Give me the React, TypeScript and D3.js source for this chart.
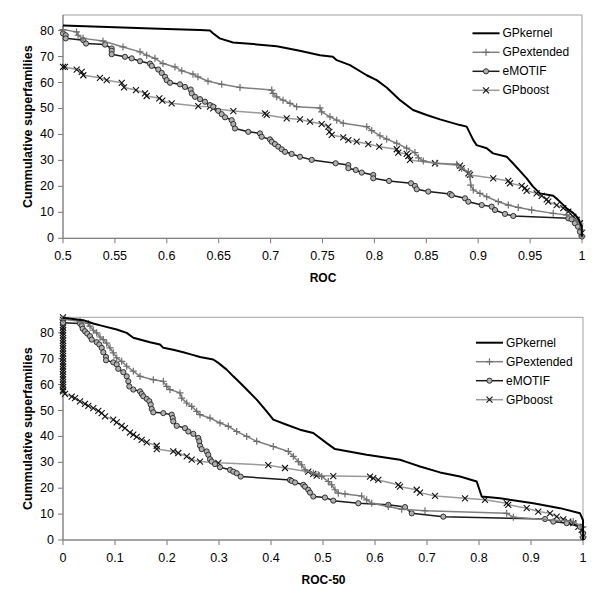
import React from 'react';
import * as d3 from 'd3';

type Pt = [number, number];

const seriesNames = ['GPkernel', 'GPextended', 'eMOTIF', 'GPboost'];
const yTicks = [0, 10, 20, 30, 40, 50, 60, 70, 80];
const rocTicks = [0.5, 0.55, 0.6, 0.65, 0.7, 0.75, 0.8, 0.85, 0.9, 0.95, 1];
const roc50Ticks = [0, 0.1, 0.2, 0.3, 0.4, 0.5, 0.6, 0.7, 0.8, 0.9, 1];
const yLabel = 'Cummulative superfamilies';

const rocGPkernel: Pt[] = [[0.5,82],[0.55,81.3],[0.6,80.6],[0.632,80.2],[0.6416,80],[0.6445,79],[0.651,77],[0.6638,75.4],[0.683,74.8],[0.706,74],[0.728,72.2],[0.7476,70.5],[0.76,69.9],[0.7637,68.6],[0.7765,66.7],[0.7926,62.8],[0.8022,60.9],[0.8118,58.1],[0.8247,53.2],[0.8372,49.4],[0.8504,47.5],[0.8632,45.8],[0.8825,43.6],[0.8889,43],[0.8953,37.8],[0.8985,35.9],[0.9082,34.7],[0.9143,32.7],[0.9275,31.4],[0.9335,28.9],[0.9467,23.1],[0.9528,19.9],[0.9595,17.3],[0.9723,16.4],[0.9769,14.8],[0.9852,11.6],[0.9916,9.7],[0.9964,7.7],[0.9997,4.5],[1,0.7]];
const rocGPextended: Pt[] = [[0.5,80.4],[0.513,79.5],[0.5145,78.2],[0.5193,77],[0.5385,76],[0.5578,73.7],[0.5742,71.8],[0.5806,70.5],[0.5886,69.3],[0.5963,67.3],[0.6079,66],[0.6144,64.5],[0.6252,63.2],[0.63,62.2],[0.6397,60.5],[0.6529,59.3],[0.6705,58.1],[0.7011,57.1],[0.7023,55.8],[0.7059,54.5],[0.712,53.2],[0.7187,52],[0.7251,50.7],[0.7476,50.2],[0.7492,48.7],[0.7572,46.8],[0.7637,45.5],[0.77,44.3],[0.7926,43],[0.7974,41.5],[0.8054,39.5],[0.8118,38.2],[0.8215,36.6],[0.8311,34.7],[0.8391,33],[0.8425,31],[0.8471,29.8],[0.86,28.9],[0.8793,28.5],[0.8841,27],[0.8905,25.7],[0.8921,23.7],[0.8928,20.5],[0.8953,18.6],[0.9017,17.3],[0.9082,16],[0.9194,14.1],[0.929,12.8],[0.9386,11.9],[0.9515,10.9],[0.9723,9.6],[0.9852,9],[0.9949,7.1],[0.998,5.5],[1,3.2],[1,0.8]];
const rocEMOTIF: Pt[] = [[0.5,78.9],[0.5026,78.2],[0.5026,77],[0.5196,76.3],[0.5222,75],[0.5405,74.6],[0.5469,73.1],[0.5469,72.2],[0.5469,70.9],[0.5597,69.9],[0.5662,69.3],[0.5742,68.2],[0.5838,67.3],[0.5855,66.4],[0.5918,65],[0.5951,63.7],[0.5983,62.2],[0.5999,60.9],[0.6031,59.9],[0.6127,59.3],[0.6175,58.3],[0.623,57.3],[0.624,55.8],[0.6272,54.5],[0.632,53.6],[0.6368,52.6],[0.6416,51.3],[0.6448,50.7],[0.6496,49.1],[0.6529,47.8],[0.6561,46.6],[0.6625,45.5],[0.6641,44],[0.6657,42.3],[0.6785,41],[0.6898,40.4],[0.6914,39.1],[0.6994,38.1],[0.7011,37.2],[0.7042,36.3],[0.7074,35.3],[0.7107,34.3],[0.7139,33.3],[0.7203,32.5],[0.7283,31.4],[0.7396,30.2],[0.7627,28.9],[0.7749,28.2],[0.7749,27],[0.782,26.3],[0.7878,25.3],[0.7989,24.4],[0.7989,23.1],[0.8141,22.1],[0.8353,21.2],[0.8391,20.2],[0.8408,18.9],[0.8519,18],[0.8728,17.1],[0.8745,16.6],[0.8873,15.4],[0.8905,14.1],[0.9034,12.8],[0.913,12.2],[0.9162,10.9],[0.9258,9.4],[0.9338,8.6],[0.9868,7.7],[0.99,7.3],[0.9932,5.8],[0.9961,4.5],[0.998,2.5],[1,0.7]];
const rocGPboost: Pt[] = [[0.5,66],[0.5019,66],[0.5132,65],[0.518,64.1],[0.5196,62.8],[0.5356,61.8],[0.5421,60.9],[0.5566,59.9],[0.5588,58.1],[0.5703,57.1],[0.579,55.8],[0.5806,54.8],[0.5928,53.9],[0.5957,53],[0.6047,52],[0.6303,50.9],[0.6416,50.7],[0.6448,50],[0.6641,49],[0.6946,48.1],[0.6962,47.5],[0.7155,46.2],[0.7283,45.8],[0.738,44.9],[0.7492,44],[0.7556,43],[0.7566,41],[0.7589,39.8],[0.77,38.9],[0.7749,37.8],[0.7829,37.2],[0.7941,36.3],[0.8047,35.3],[0.8215,34.3],[0.823,33],[0.8311,32.5],[0.8327,31.7],[0.8343,30.2],[0.8584,28.9],[0.8825,28],[0.8841,27],[0.8905,25],[0.8921,24.4],[0.9145,23.1],[0.929,22.1],[0.9306,21.2],[0.9419,20.2],[0.9451,19.3],[0.9467,18.3],[0.9563,17.3],[0.9612,16.3],[0.966,15],[0.9675,14.1],[0.9756,12.8],[0.982,11.6],[0.9868,10.3],[0.9916,8.3],[0.9949,7.1],[0.998,5.8],[0.9997,2]];

const roc50GPkernel: Pt[] = [[0,85.8],[0.039,84.9],[0.058,83.6],[0.0775,82.6],[0.1033,81.3],[0.1225,80],[0.1352,78.1],[0.1673,76.4],[0.1865,75.5],[0.193,74.2],[0.2121,73.5],[0.2313,72.5],[0.2475,71.6],[0.2635,70.7],[0.289,69.7],[0.2987,68.4],[0.3148,65.8],[0.3275,63.2],[0.3404,60.7],[0.3533,58.1],[0.3725,54.2],[0.3917,49.7],[0.4044,46.5],[0.4302,44.5],[0.4558,42.6],[0.4813,41.3],[0.5071,37.4],[0.5231,35.1],[0.584,32.9],[0.648,31],[0.6673,29.7],[0.6865,28.4],[0.725,26.1],[0.7635,24.5],[0.7956,22.6],[0.8052,16.8],[0.8404,16.1],[0.9044,14.2],[0.9558,12.3],[0.9942,10.3],[1,7.7],[1,0]];
const roc50GPextended: Pt[] = [[0,85.2],[0.0327,84.5],[0.0487,83.6],[0.0519,82.6],[0.0583,81],[0.0648,80],[0.0712,78.4],[0.0775,77.4],[0.084,76],[0.0904,74.2],[0.0967,72.3],[0.1033,70.3],[0.1129,69],[0.1225,67.1],[0.1352,65.2],[0.1481,63.2],[0.1737,61.9],[0.1929,61.3],[0.1994,59.3],[0.2058,58.1],[0.225,56.8],[0.2283,54.8],[0.2379,52.9],[0.2475,51.6],[0.2571,49.7],[0.2635,48.4],[0.2827,47.1],[0.3019,45.2],[0.3179,43.9],[0.334,41.9],[0.3533,40],[0.3725,38.1],[0.4044,36.1],[0.4333,34.2],[0.4429,32.3],[0.4525,30.3],[0.459,29],[0.4654,27.1],[0.4813,25.8],[0.491,25.2],[0.4975,24.5],[0.5102,22.6],[0.5167,21.3],[0.5231,19.4],[0.5294,18.1],[0.5423,17.8],[0.5744,17],[0.584,15.5],[0.5937,14.2],[0.6256,12.9],[0.6513,11.9],[0.6962,11.3],[0.8533,10.3],[0.866,8.8],[0.9813,7.1],[1,5.1],[1,1.3]];
const roc50EMOTIF: Pt[] = [[0,83.9],[0.0327,83.6],[0.036,82.8],[0.0379,81.6],[0.0423,80.6],[0.0467,79.7],[0.0519,78.7],[0.0552,77.4],[0.0648,76.4],[0.0698,75.5],[0.0744,74.2],[0.0775,72.5],[0.0827,70.7],[0.0827,69.4],[0.0967,68.6],[0.1033,67.8],[0.1063,66.1],[0.116,64.8],[0.1225,63.2],[0.1256,61.3],[0.1275,59.3],[0.1352,58.1],[0.1481,57.4],[0.1513,56.4],[0.1544,55.5],[0.161,54.5],[0.166,53.6],[0.1687,52.3],[0.1706,50.6],[0.1737,49.3],[0.1929,49],[0.209,48.4],[0.211,47.1],[0.2121,45.8],[0.2187,44.1],[0.2346,43.2],[0.241,41.9],[0.2506,41],[0.2602,39.4],[0.2621,38.1],[0.2635,36.4],[0.2667,35.1],[0.2763,34.2],[0.2794,32.9],[0.2827,31.2],[0.286,30.3],[0.2923,29.3],[0.3019,28.1],[0.3212,27.1],[0.3275,26.4],[0.334,25.8],[0.3417,24.5],[0.4365,23.2],[0.4398,22.8],[0.4462,22.2],[0.4621,21.3],[0.4654,20.6],[0.4717,19.4],[0.475,18.3],[0.4813,16.8],[0.5038,16.4],[0.5198,15.2],[0.5679,14.2],[0.6256,13.6],[0.6577,12.7],[0.6706,10.3],[0.7313,9],[0.9269,8.1],[0.9429,7.1],[0.9686,6.5],[0.9942,5.1],[1,2.6],[1,1]];
const roc50GPboost: Pt[] = [[0,86],[0,85],[0,84],[0,83],[0,82],[0,81],[0,80],[0,79],[0,78],[0,77],[0,76],[0,75],[0,74],[0,73],[0,72],[0,71],[0,70],[0,69],[0,68],[0,67],[0,66],[0,65],[0,64],[0,63],[0,62],[0,61],[0,60],[0,59],[0,58],[0,57.4],[0.0038,56.4],[0.0167,55.4],[0.0231,54.8],[0.0327,53.5],[0.0423,52.6],[0.0487,51.8],[0.0583,50.9],[0.0679,49.9],[0.0744,49],[0.0808,47.7],[0.0967,46.5],[0.1033,45.4],[0.1129,44.1],[0.1192,43.2],[0.1288,41.5],[0.1352,40.7],[0.1417,39.8],[0.1513,38.7],[0.161,37.7],[0.1802,36.4],[0.1802,35.1],[0.2121,34.2],[0.2217,33.6],[0.2379,32.3],[0.2475,31],[0.2635,30.3],[0.2987,29.8],[0.3948,28.9],[0.4269,27.8],[0.4717,26.4],[0.4813,25.5],[0.4879,24.9],[0.5198,24.7],[0.5904,24.5],[0.5967,23.9],[0.6063,23.2],[0.6448,21.3],[0.6481,20.6],[0.6802,19.4],[0.6865,18.3],[0.7154,17],[0.7731,16.1],[0.8115,15.5],[0.8533,14.2],[0.8563,13.6],[0.8917,12.3],[0.914,11],[0.9365,10.3],[0.9494,9],[0.9621,8],[0.9717,7.1],[0.9813,6.5],[0.991,5.1],[0.9975,3.9],[1,1.9]];

const FONT = '"Liberation Sans", Arial, sans-serif';

const styles = [
  { line: '#000', width: 2, marker: 'none' },
  { line: '#808080', width: 1.5, marker: 'plus' },
  { line: '#1a1a1a', width: 1.5, marker: 'circle' },
  { line: '#9a9a9a', width: 1.5, marker: 'cross' },
];

function Marker({ kind, x, y }: { kind: string; x: number; y: number }) {
  if (kind === 'plus') {
    return <path d={`M${x - 3.5},${y}H${x + 3.5}M${x},${y - 3.5}V${y + 3.5}`} stroke="#6e6e6e" strokeWidth={1.2} fill="none" />;
  }
  if (kind === 'circle') {
    return <circle cx={x} cy={y} r={2.6} fill="#b0b0b0" stroke="#222" strokeWidth={0.9} />;
  }
  if (kind === 'cross') {
    return <path d={`M${x - 3},${y - 3}L${x + 3},${y + 3}M${x - 3},${y + 3}L${x + 3},${y - 3}`} stroke="#111" strokeWidth={1.1} fill="none" />;
  }
  return null;
}

type ChartProps = {
  left: number; right: number; top: number; bottom: number;
  xDomain: [number, number]; xTicks: number[]; xLabel: string;
  series: Pt[][]; legendX: number; legendY: number;
};

function Chart({ left, right, top, bottom, xDomain, xTicks, xLabel, series, legendX, legendY }: ChartProps) {
  const x = d3.scaleLinear().domain(xDomain).range([left, right]);
  const y = d3.scaleLinear().domain([0, 86]).range([bottom, top]);
  const line = d3.line<Pt>().x(d => x(d[0])).y(d => y(d[1]));
  const order = [3, 2, 1, 0];
  return (
    <g>
      <rect x={left} y={top} width={right - left} height={bottom - top} fill="#fff" stroke="#a0a0a0" strokeWidth={1} />
      <line x1={left} x2={left} y1={top} y2={bottom} stroke="#7a7a7a" />
      <line x1={left} x2={right} y1={bottom} y2={bottom} stroke="#7a7a7a" />
      {yTicks.map(t => (
        <g key={'y' + t}>
          <line x1={left - 5} x2={left} y1={y(t)} y2={y(t)} stroke="#7a7a7a" />
          <text x={left - 9} y={y(t)} textAnchor="end" dominantBaseline="central" fontFamily={FONT} fontSize={12.5} fill="#000">{t}</text>
        </g>
      ))}
      {xTicks.map(t => (
        <g key={'x' + t}>
          <line x1={x(t)} x2={x(t)} y1={bottom} y2={bottom + 5} stroke="#7a7a7a" />
          <text x={x(t)} y={bottom + 18} textAnchor="middle" dominantBaseline="central" fontFamily={FONT} fontSize={12.5} fill="#000">{String(t)}</text>
        </g>
      ))}
      {order.map(i => (
        <g key={'s' + i}>
          <path d={line(series[i]) || ''} fill="none" stroke={styles[i].line} strokeWidth={styles[i].width} strokeLinejoin="round" />
          {styles[i].marker !== 'none' && series[i].map((p, j) => (
            <Marker key={j} kind={styles[i].marker} x={x(p[0])} y={y(p[1])} />
          ))}
        </g>
      ))}
      <text x={(left + right) / 2 + 0.5} y={bottom + 40} textAnchor="middle" dominantBaseline="central" fontFamily={FONT} fontSize={12} fontWeight="bold">{xLabel}</text>
      <text transform={`translate(28,${(top + bottom) / 2}) rotate(-90)`} textAnchor="middle" dominantBaseline="central" fontFamily={FONT} fontSize={12.5} fontWeight="bold">{yLabel}</text>
      {seriesNames.map((name, i) => {
        const ly = legendY + i * 19;
        return (
          <g key={'l' + i}>
            <line x1={legendX} x2={legendX + 27} y1={ly} y2={ly} stroke={styles[i].line} strokeWidth={styles[i].width} />
            {styles[i].marker !== 'none' && <Marker kind={styles[i].marker} x={legendX + 13.5} y={ly} />}
            <text x={legendX + 30} y={ly} dominantBaseline="central" fontFamily={FONT} fontSize={12} fill="#000">{name}</text>
          </g>
        );
      })}
    </g>
  );
}

export default function App() {
  return (
    <svg width={600} height={606} style={{ position: 'absolute', left: 0, top: 0, background: '#fff' }}>
      <rect x={0} y={0} width={600} height={606} fill="#fff" />
      <Chart left={63} right={582} top={15} bottom={238.3} xDomain={[0.5, 1]} xTicks={rocTicks} xLabel="ROC"
        series={[rocGPkernel, rocGPextended, rocEMOTIF, rocGPboost]} legendX={472.5} legendY={33.3} />
      <Chart left={63} right={583} top={317.3} bottom={540} xDomain={[0, 1]} xTicks={roc50Ticks} xLabel="ROC-50"
        series={[roc50GPkernel, roc50GPextended, roc50EMOTIF, roc50GPboost]} legendX={476} legendY={342.7} />
    </svg>
  );
}
